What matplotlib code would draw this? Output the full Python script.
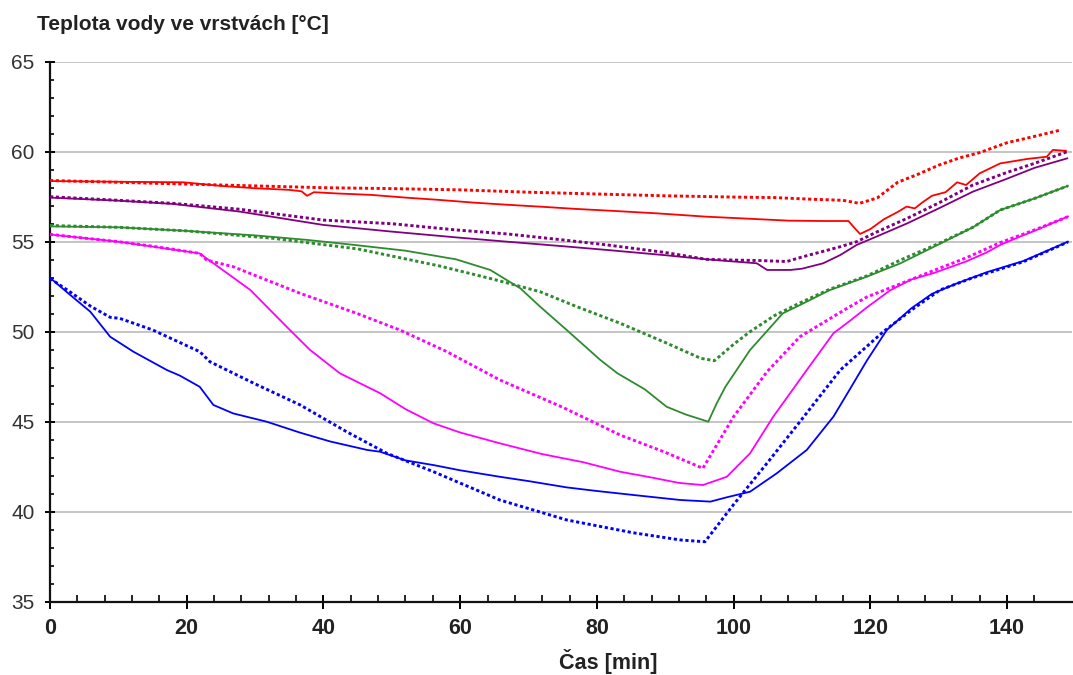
import matplotlib
matplotlib.use("Agg")
import matplotlib.pyplot as plt
from matplotlib.ticker import FixedLocator, MultipleLocator
import numpy as np

# ---------------- data ----------------
red_dot_t = [0, 10, 20, 30, 40, 50, 57, 60, 70, 80, 90, 100, 106, 112, 116, 118.4, 121, 124, 127, 130, 133, 136, 140, 144, 147.8]
red_dot_v = [58.4, 58.3, 58.2, 58.1, 58.0, 57.95, 57.9, 57.88, 57.75, 57.65, 57.55, 57.48, 57.45, 57.35, 57.3, 57.13, 57.43, 58.3, 58.75, 59.25, 59.65, 59.95, 60.5, 60.85, 61.2]

red_sol_t = [0, 10, 19.5, 25, 30, 35, 36.8, 37.6, 38.6, 42, 47, 52, 57, 62, 67, 72, 77, 82, 89, 96, 101, 108, 113, 116.8, 117.6, 118.5, 120, 122, 124, 125.3, 126.5, 127.5, 129, 131, 132.7, 134, 136, 139, 143, 145.8, 146.7, 148.6]
red_sol_v = [58.37, 58.33, 58.3, 58.1, 57.97, 57.88, 57.8, 57.55, 57.75, 57.68, 57.6, 57.45, 57.32, 57.17, 57.05, 56.94, 56.82, 56.72, 56.57, 56.39, 56.3, 56.17, 56.15, 56.15, 55.8, 55.43, 55.7, 56.25, 56.65, 56.95, 56.85, 57.15, 57.55, 57.75, 58.3, 58.15, 58.8, 59.35, 59.6, 59.72, 60.1, 60.05]

pur_dot_t = [0, 10, 18, 27.8, 40, 50, 59.5, 66.9, 75, 81.5, 90, 96, 100, 104, 107.8, 110, 115.6, 118, 121, 125.4, 130, 135, 140, 144, 148.8]
pur_dot_v = [57.5, 57.3, 57.13, 56.8, 56.2, 56.0, 55.65, 55.43, 55.1, 54.82, 54.4, 54.02, 53.98, 53.95, 53.9, 54.15, 54.72, 55.0, 55.55, 56.3, 57.15, 58.15, 58.85, 59.35, 60.0]

pur_sol_t = [0, 10, 18, 27.8, 40, 50, 59.4, 66.9, 75, 81.5, 90, 96.1, 100, 103.4, 104.9, 108.3, 110, 113.1, 115.6, 118, 121, 125.4, 130, 135, 140, 144, 148.8]
pur_sol_v = [57.45, 57.28, 57.1, 56.67, 55.93, 55.56, 55.24, 55.0, 54.75, 54.54, 54.25, 54.02, 53.9, 53.8, 53.43, 53.43, 53.5, 53.8, 54.26, 54.82, 55.3, 56.02, 56.85, 57.78, 58.5, 59.1, 59.63]

grn_dot_t = [0, 10, 20, 32.6, 45, 57, 65, 71.7, 77, 83.4, 90, 95.2, 97.2, 100, 102.4, 106, 109.7, 114, 119.5, 124.4, 130, 135, 139, 144, 148.9]
grn_dot_v = [55.9, 55.8, 55.6, 55.19, 54.6, 53.65, 52.9, 52.22, 51.4, 50.47, 49.4, 48.52, 48.39, 49.3, 50.0, 50.9, 51.6, 52.35, 53.1, 53.98, 54.9, 55.8, 56.76, 57.4, 58.1]

grn_sol_t = [0, 10, 20, 30, 37.6, 45, 52, 59.4, 64.4, 68.8, 71.7, 75.6, 80.5, 83, 87, 90.2, 93, 96.3, 97.5, 98.8, 102.4, 107.2, 109.7, 114, 119.5, 124.4, 130, 135, 139, 144, 148.9]
grn_sol_v = [55.85, 55.8, 55.6, 55.35, 55.1, 54.8, 54.5, 54.02, 53.43, 52.41, 51.39, 50.09, 48.43, 47.69, 46.8, 45.83, 45.4, 45.0, 46.0, 46.94, 48.98, 51.02, 51.48, 52.3, 53.06, 53.8, 54.85, 55.8, 56.76, 57.4, 58.1]

mag_dot_t = [0, 5, 10, 15, 21.9, 22.9, 26.8, 36.6, 45, 51.2, 58, 65.8, 75, 83.4, 90, 95.5, 100, 104.9, 109.7, 117, 119.5, 124, 129.2, 134, 139, 144, 148.9]
mag_dot_v = [55.41, 55.2, 55.0, 54.75, 54.35, 53.98, 53.61, 52.13, 51.0, 50.09, 48.9, 47.32, 45.8, 44.26, 43.3, 42.41, 45.28, 47.78, 49.72, 51.39, 51.93, 52.6, 53.39, 54.1, 54.95, 55.65, 56.39]

mag_sol_t = [0, 10, 21.9, 25, 29.3, 35.1, 38, 42.4, 48.3, 52, 56.1, 60, 65.8, 72, 78, 83.4, 88, 92, 95.5, 99, 102.4, 105.8, 110.7, 114.6, 117, 119.5, 122.9, 126, 129.2, 134, 137, 139, 142, 144, 148.9]
mag_sol_v = [55.4, 55.0, 54.35, 53.5, 52.32, 50.09, 49.0, 47.69, 46.58, 45.7, 44.91, 44.4, 43.8, 43.2, 42.75, 42.22, 41.9, 41.6, 41.48, 41.94, 43.24, 45.28, 47.87, 49.91, 50.6, 51.35, 52.3, 52.9, 53.25, 53.9, 54.4, 54.82, 55.3, 55.6, 56.4]

blu_dot_t = [0, 2.9, 6, 8.8, 10.2, 15, 21.9, 23.4, 30, 36.6, 43.4, 49.3, 56.1, 65.8, 75.6, 85.3, 92.2, 95.8, 100, 104.9, 109.7, 115.6, 121.9, 126, 130.2, 135, 142.4, 148.9]
blu_dot_v = [52.96, 52.22, 51.4, 50.8, 50.74, 50.1, 48.89, 48.33, 47.1, 45.93, 44.44, 43.24, 42.22, 40.65, 39.54, 38.83, 38.43, 38.33, 40.4, 42.7, 45.0, 47.87, 50.0, 51.2, 52.32, 53.0, 53.89, 54.98]

blu_sol_t = [0, 2.4, 5.9, 8.8, 12.2, 17.1, 19, 21.9, 23.9, 26.8, 31.7, 36.6, 41, 46.4, 48.3, 52, 56.1, 60, 65.8, 70, 75.6, 80, 85.3, 92.2, 96.6, 99, 102.4, 106.3, 110.7, 114.6, 117, 119.5, 122.4, 126, 129, 132.7, 137, 142.4, 148.9]
blu_sol_v = [53.0, 52.22, 51.11, 49.72, 48.89, 47.87, 47.56, 46.94, 45.93, 45.46, 45.0, 44.39, 43.9, 43.43, 43.33, 42.85, 42.59, 42.3, 41.94, 41.7, 41.35, 41.15, 40.93, 40.65, 40.56, 40.8, 41.11, 42.13, 43.43, 45.28, 46.8, 48.4, 50.09, 51.3, 52.1, 52.69, 53.3, 53.93, 55.0]

title_text = "Teplota vody ve vrstvách [°C]"
xlabel_text = "Čas [min]"
x_major = [0, 20, 40, 60, 80, 100, 120, 140]
y_major = [35, 40, 45, 50, 55, 60, 65]

# ---------------- plot ----------------
plt.rcParams['font.family'] = ['Liberation Sans', 'DejaVu Sans']
fig = plt.figure(figsize=(10.73, 6.75), dpi=100)
ax = fig.add_axes([50/1073, 73.3/675, 1022/1073, 540/675])

RED, PUR, GRN, MAG, BLU = '#FF0000', '#800080', '#2E8B2E', '#FF00FF', '#0000FF'
dot_kw = dict(lw=2.1, linestyle=(0, (1.1, 0.9)), dash_capstyle='butt')
sol_kw = dict(lw=1.3)

series = [
    (red_dot_t, red_dot_v, RED, dot_kw), (red_sol_t, red_sol_v, RED, sol_kw),
    (pur_dot_t, pur_dot_v, PUR, dot_kw), (pur_sol_t, pur_sol_v, PUR, sol_kw),
    (grn_dot_t, grn_dot_v, GRN, dot_kw), (grn_sol_t, grn_sol_v, GRN, sol_kw),
    (mag_dot_t, mag_dot_v, MAG, dot_kw), (mag_sol_t, mag_sol_v, MAG, sol_kw),
    (blu_dot_t, blu_dot_v, BLU, dot_kw), (blu_sol_t, blu_sol_v, BLU, sol_kw),
]
for t, v, c, kw in series:
    ax.plot(t, v, color=c, **kw, zorder=3)

ax.set_xlim(0, 149.5)
ax.set_ylim(35, 65)
ax.xaxis.set_major_locator(FixedLocator(x_major))
ax.xaxis.set_minor_locator(FixedLocator(list(range(0, 146, 4))))
ax.yaxis.set_major_locator(FixedLocator(y_major))
ax.yaxis.set_minor_locator(MultipleLocator(1))

ax.grid(axis='y', which='major', color='#C0C0C0', lw=1.3, zorder=0)
ax.set_axisbelow(True)
for s in ['top', 'right']:
    ax.spines[s].set_visible(False)
for s in ['left', 'bottom']:
    ax.spines[s].set_linewidth(1.6)
    ax.spines[s].set_color('#111111')

ax.tick_params(axis='x', which='major', direction='inout', length=9.5, width=1.4, pad=7, labelsize=15.5, labelcolor='#222222')
ax.tick_params(axis='x', which='minor', direction='in', length=4.8, width=1.2)
ax.tick_params(axis='y', which='major', direction='inout', length=7, width=1.4, pad=7.5, labelsize=15, labelcolor='#333333')
ax.tick_params(axis='y', which='minor', direction='in', length=3.2, width=1.2)
for lab in ax.get_xticklabels():
    lab.set_fontweight('bold')

fig.text(37/1073, 1 - 25/675, title_text, fontsize=15, fontweight='bold', color='#222222', va='center', ha='left')
fig.text(608/1073, 13/675, xlabel_text, fontsize=15.5, fontweight='bold', color='#222222', va='center', ha='center')

fig.savefig('out.png', dpi=100)
